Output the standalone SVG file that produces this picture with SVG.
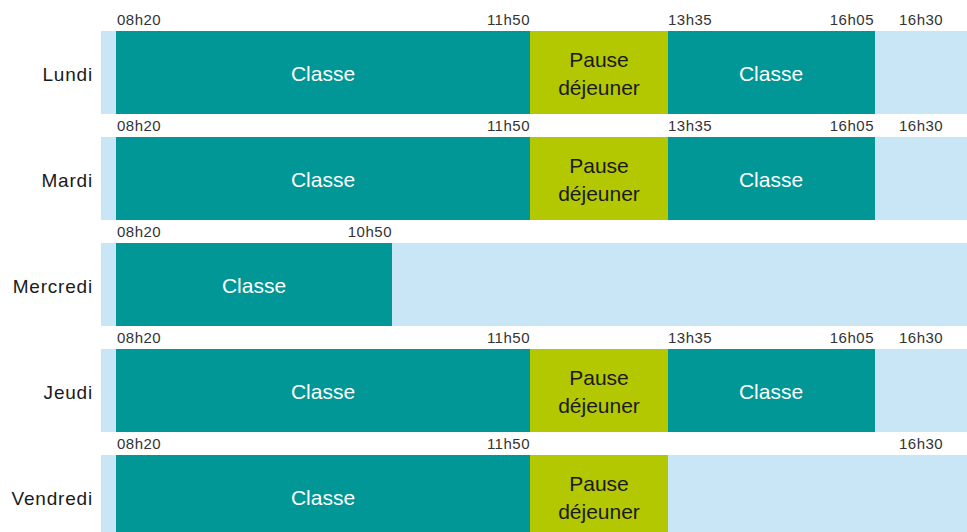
<svg xmlns="http://www.w3.org/2000/svg" width="967" height="532" viewBox="0 0 967 532">
<style>
.bg{fill:#c9e6f7}
.cl{fill:#009796}
.pz{fill:#b3c800}
.day{font-family:"Liberation Sans",Arial,sans-serif;font-size:19px;letter-spacing:0.8px;fill:#1a1a1a;text-anchor:end}
.tm{font-family:"Liberation Sans",Arial,sans-serif;font-size:15px;letter-spacing:0.5px;fill:#333333}
.ct{font-family:"Liberation Sans",Arial,sans-serif;font-size:21px;fill:#ffffff;text-anchor:middle}
.pt{font-family:"Liberation Sans",Arial,sans-serif;font-size:21px;fill:#1a1a1a;text-anchor:middle}
.e{text-anchor:end}
</style>
<rect width="967" height="532" fill="#ffffff"/>
<g id="lundi">
<rect class="bg" x="101" y="31" width="866" height="83"/>
<rect class="cl" x="116" y="31" width="414" height="83"/>
<rect class="pz" x="530" y="31" width="138" height="83"/>
<rect class="cl" x="668" y="31" width="207" height="83"/>
<text class="day" x="93" y="81">Lundi</text>
<text class="ct" x="323" y="81">Classe</text>
<text class="pt" x="599" y="67">Pause</text>
<text class="pt" x="599" y="95">déjeuner</text>
<text class="ct" x="771" y="81">Classe</text>
<text class="tm" x="117" y="25">08h20</text>
<text class="tm e" x="530" y="25">11h50</text>
<text class="tm" x="668" y="25">13h35</text>
<text class="tm e" x="874" y="25">16h05</text>
<text class="tm" x="899" y="25">16h30</text>
</g>
<g id="mardi">
<rect class="bg" x="101" y="137" width="866" height="83"/>
<rect class="cl" x="116" y="137" width="414" height="83"/>
<rect class="pz" x="530" y="137" width="138" height="83"/>
<rect class="cl" x="668" y="137" width="207" height="83"/>
<text class="day" x="93" y="187">Mardi</text>
<text class="ct" x="323" y="187">Classe</text>
<text class="pt" x="599" y="173">Pause</text>
<text class="pt" x="599" y="201">déjeuner</text>
<text class="ct" x="771" y="187">Classe</text>
<text class="tm" x="117" y="131">08h20</text>
<text class="tm e" x="530" y="131">11h50</text>
<text class="tm" x="668" y="131">13h35</text>
<text class="tm e" x="874" y="131">16h05</text>
<text class="tm" x="899" y="131">16h30</text>
</g>
<g id="mercredi">
<rect class="bg" x="101" y="243" width="866" height="83"/>
<rect class="cl" x="116" y="243" width="276" height="83"/>
<text class="day" x="93" y="293">Mercredi</text>
<text class="ct" x="254" y="293">Classe</text>
<text class="tm" x="117" y="237">08h20</text>
<text class="tm e" x="392" y="237">10h50</text>
</g>
<g id="jeudi">
<rect class="bg" x="101" y="349" width="866" height="83"/>
<rect class="cl" x="116" y="349" width="414" height="83"/>
<rect class="pz" x="530" y="349" width="138" height="83"/>
<rect class="cl" x="668" y="349" width="207" height="83"/>
<text class="day" x="93" y="399">Jeudi</text>
<text class="ct" x="323" y="399">Classe</text>
<text class="pt" x="599" y="385">Pause</text>
<text class="pt" x="599" y="413">déjeuner</text>
<text class="ct" x="771" y="399">Classe</text>
<text class="tm" x="117" y="343">08h20</text>
<text class="tm e" x="530" y="343">11h50</text>
<text class="tm" x="668" y="343">13h35</text>
<text class="tm e" x="874" y="343">16h05</text>
<text class="tm" x="899" y="343">16h30</text>
</g>
<g id="vendredi">
<rect class="bg" x="101" y="455" width="866" height="83"/>
<rect class="cl" x="116" y="455" width="414" height="83"/>
<rect class="pz" x="530" y="455" width="138" height="83"/>
<text class="day" x="93" y="505">Vendredi</text>
<text class="ct" x="323" y="505">Classe</text>
<text class="pt" x="599" y="491">Pause</text>
<text class="pt" x="599" y="519">déjeuner</text>
<text class="tm" x="117" y="449">08h20</text>
<text class="tm e" x="530" y="449">11h50</text>
<text class="tm" x="899" y="449">16h30</text>
</g>
<g id="connectors"/>
</svg>
